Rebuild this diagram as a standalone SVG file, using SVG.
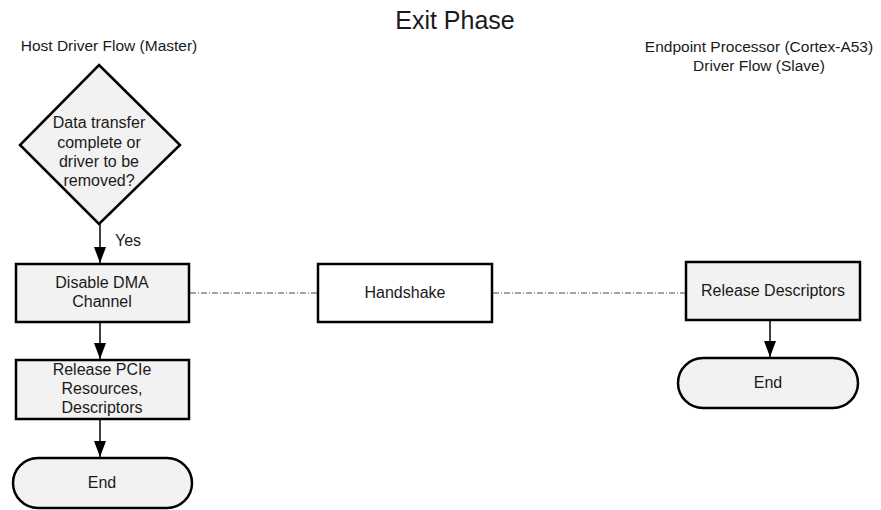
<svg xmlns="http://www.w3.org/2000/svg" width="881" height="510" viewBox="0 0 881 510">
<defs>
<style>
text{font-family:"Liberation Sans",Arial,sans-serif;font-size:16px;fill:#1a1a1a;text-anchor:middle}
.shape{fill:#f2f2f2;stroke:#000;stroke-width:2.5}
.white{fill:#fff;stroke:#000;stroke-width:2.5}
.flow{stroke:#000;stroke-width:1.5;fill:none;marker-end:url(#ah)}
.dash{stroke:#444;stroke-width:1;fill:none;stroke-dasharray:6 2 1 2}
</style>
<marker id="ah" viewBox="0 0 16 12" refX="16" refY="6" markerWidth="16" markerHeight="12" markerUnits="userSpaceOnUse" orient="auto">
<path d="M0,0 L16,6 L0,12 Z" fill="#000"/>
</marker>
</defs>
<rect width="881" height="510" fill="#fff"/>
<text x="455" y="29" style="font-size:25px">Exit Phase</text>
<text x="109" y="51" style="font-size:15.5px">Host Driver Flow (Master)</text>
<text x="759" y="52" style="font-size:15.5px">Endpoint Processor (Cortex-A53)</text>
<text x="759" y="71" style="font-size:15.5px">Driver Flow (Slave)</text>
<g id="connectors">
<line class="flow" x1="100" y1="224" x2="100" y2="263"/>
<line class="flow" x1="100" y1="322" x2="100" y2="359"/>
<line class="flow" x1="100" y1="419" x2="100" y2="457"/>
<line class="flow" x1="770" y1="320" x2="770" y2="357"/>
<line class="dash" x1="190" y1="293" x2="318" y2="293"/>
<line class="dash" x1="493" y1="293" x2="685" y2="293"/>
<text x="128" y="246">Yes</text>
</g>
<g id="decision">
<polygon class="shape" points="99,65 180,145 99,224 20,145"/>
<text x="99" y="128">Data transfer</text>
<text x="99" y="148">complete or</text>
<text x="99" y="167">driver to be</text>
<text x="99" y="186">removed?</text>
</g>
<g id="disable-dma">
<rect class="shape" x="16" y="264" width="173" height="58"/>
<text x="102" y="288">Disable DMA</text>
<text x="102" y="307">Channel</text>
</g>
<g id="release-pcie">
<rect class="shape" x="16" y="360" width="173" height="59"/>
<text x="102" y="375">Release PCIe</text>
<text x="102" y="394">Resources,</text>
<text x="102" y="413">Descriptors</text>
</g>
<g id="end-host">
<rect class="shape" x="13" y="458" width="179" height="50" rx="25" ry="25"/>
<text x="102" y="488">End</text>
</g>
<g id="handshake">
<rect class="white" x="318" y="264" width="174" height="58"/>
<text x="405" y="298">Handshake</text>
</g>
<g id="release-descriptors">
<rect class="shape" x="686" y="262" width="174" height="58"/>
<text x="773" y="296">Release Descriptors</text>
</g>
<g id="end-endpoint">
<rect class="shape" x="678" y="358" width="180" height="50" rx="25" ry="25"/>
<text x="768" y="388">End</text>
</g>
</svg>
